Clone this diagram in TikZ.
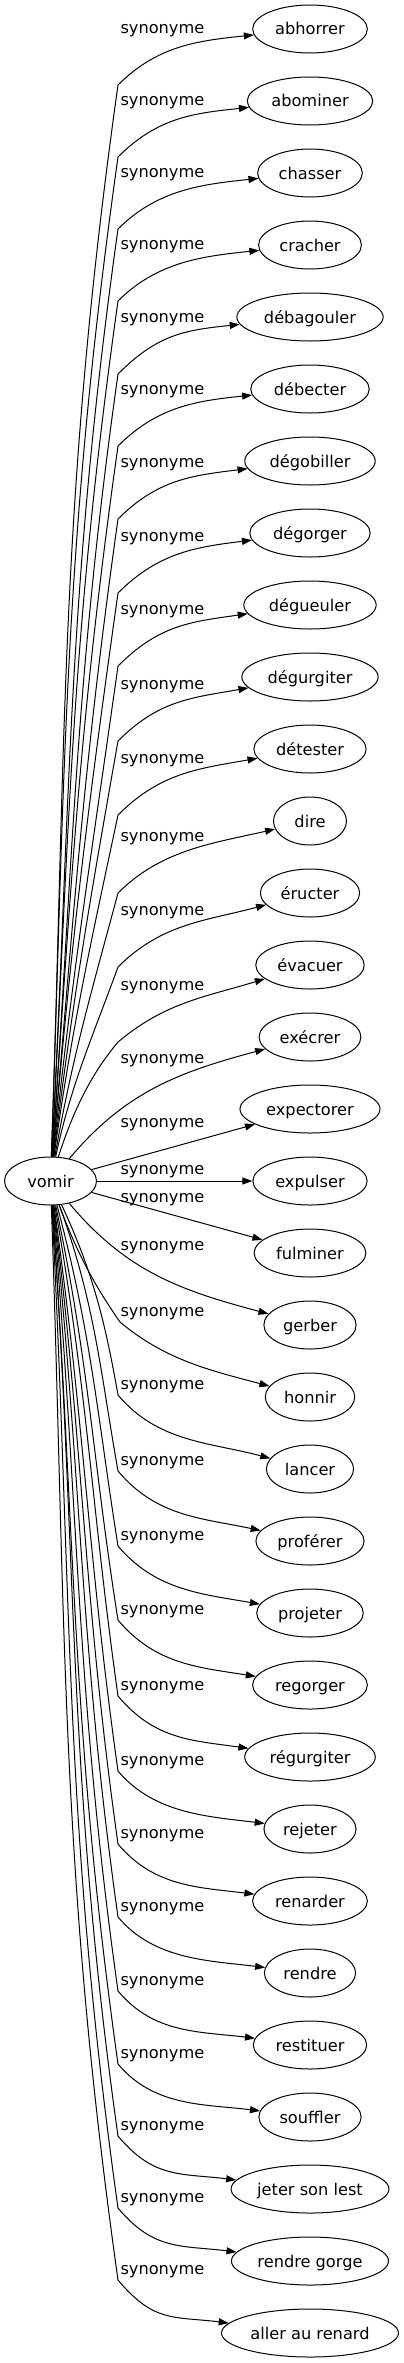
\documentclass[tikz,border=0pt]{standalone}
\usepackage{fontspec}
\setmainfont{DejaVu Sans}
\usepackage{tikz}
\usetikzlibrary{shapes.geometric}
\usetikzlibrary{arrows.meta}

\begin{document}
\begin{tikzpicture}
    [x=1pt, y=1pt, line width=1pt, font=\fontsize{16.2}{19}\selectfont,
     word/.style = {draw, ellipse, minimum width=73pt, minimum height=48pt, inner xsep=5.7pt, inner ysep=0pt, text height=12pt, text depth=0pt},
     lbl/.style = {anchor=base west, inner sep=0pt},
     syn/.style = {-{Triangle[length=10pt, width=7pt]}}]

    \useasboundingbox (0,0) rectangle (404,-2363);

    \node[word, minimum width=92pt] (vomir) at (50.5,-1181) {vomir};

    \node[word] (abhorrer) at (310,-29) {abhorrer};
    \node[word] (abominer) at (310,-101) {abominer};
    \node[word] (chasser) at (310,-173) {chasser};
    \node[word] (cracher) at (310,-245) {cracher};
    \node[word] (debagouler) at (310,-317) {débagouler};
    \node[word] (debecter) at (310,-389) {débecter};
    \node[word] (degobiller) at (310,-461) {dégobiller};
    \node[word] (degorger) at (310,-533) {dégorger};
    \node[word] (degueuler) at (310,-605) {dégueuler};
    \node[word] (degurgiter) at (310,-677) {dégurgiter};
    \node[word] (detester) at (310,-749) {détester};
    \node[word] (dire) at (310,-821) {dire};
    \node[word] (eructer) at (310,-893) {éructer};
    \node[word] (evacuer) at (310,-965) {évacuer};
    \node[word] (execrer) at (310,-1037) {exécrer};
    \node[word] (expectorer) at (310,-1109) {expectorer};
    \node[word] (expulser) at (310,-1181) {expulser};
    \node[word] (fulminer) at (310,-1253) {fulminer};
    \node[word] (gerber) at (310,-1325) {gerber};
    \node[word] (honnir) at (310,-1397) {honnir};
    \node[word] (lancer) at (310,-1469) {lancer};
    \node[word] (proferer) at (310,-1541) {proférer};
    \node[word] (projeter) at (310,-1613) {projeter};
    \node[word] (regorger) at (310,-1685) {regorger};
    \node[word] (regurgiter) at (310,-1757) {régurgiter};
    \node[word] (rejeter) at (310,-1829) {rejeter};
    \node[word] (renarder) at (310,-1901) {renarder};
    \node[word] (rendre) at (310,-1973) {rendre};
    \node[word] (restituer) at (310,-2045) {restituer};
    \node[word] (souffler) at (310,-2117) {souffler};
    \node[word, inner xsep=3pt] (jeter) at (310,-2189) {jeter son lest};
    \node[word, inner xsep=3pt] (gorge) at (310,-2261) {rendre gorge};
    \node[word, inner xsep=3pt] (renard) at (310,-2333) {aller au renard};

    \node[lbl] (l1) at (120,-33.5) {synonyme};
    \node[lbl] (l2) at (120,-105.5) {synonyme};
    \node[lbl] (l3) at (120,-177.5) {synonyme};
    \node[lbl] (l4) at (120,-249.5) {synonyme};
    \node[lbl] (l5) at (120,-322.5) {synonyme};
    \node[lbl] (l6) at (120,-394.5) {synonyme};
    \node[lbl] (l7) at (120,-467.5) {synonyme};
    \node[lbl] (l8) at (120,-541.5) {synonyme};
    \node[lbl] (l9) at (120,-614.5) {synonyme};
    \node[lbl] (l10) at (120,-689.5) {synonyme};
    \node[lbl] (l11) at (120,-763.5) {synonyme};
    \node[lbl] (l12) at (120,-841.5) {synonyme};
    \node[lbl] (l13) at (120,-915.5) {synonyme};
    \node[lbl] (l14) at (120,-990.5) {synonyme};
    \node[lbl] (l15) at (120,-1063.5) {synonyme};
    \node[lbl] (l16) at (120,-1127.5) {synonyme};
    \node[lbl] (l17) at (120,-1174.5) {synonyme};
    \node[lbl] (l18) at (120,-1202.5) {synonyme};
    \node[lbl] (l19) at (120,-1250.5) {synonyme};
    \node[lbl] (l20) at (120,-1316.5) {synonyme};
    \node[lbl] (l21) at (120,-1389.5) {synonyme};
    \node[lbl] (l22) at (120,-1465.5) {synonyme};
    \node[lbl] (l23) at (120,-1540.5) {synonyme};
    \node[lbl] (l24) at (120,-1614.5) {synonyme};
    \node[lbl] (l25) at (120,-1690.5) {synonyme};
    \node[lbl] (l26) at (120,-1765.5) {synonyme};
    \node[lbl] (l27) at (120,-1838.5) {synonyme};
    \node[lbl] (l28) at (120,-1911.5) {synonyme};
    \node[lbl] (l29) at (120,-1985.5) {synonyme};
    \node[lbl] (l30) at (120,-2058.5) {synonyme};
    \node[lbl] (l31) at (120,-2130.5) {synonyme};
    \node[lbl] (l32) at (120,-2202.5) {synonyme};
    \node[lbl] (l33) at (120,-2274.5) {synonyme};

    % upper fan
    \draw[syn] (vomir.88) .. controls +(88:418) and +(262:418) .. (118,-85) .. controls +(45:56) and +(186:56) .. (abhorrer.186);
    \draw[syn] (vomir.88) .. controls +(88:390) and +(262:390) .. (118,-157) .. controls +(45:56) and +(186:56) .. (abominer.186);
    \draw[syn] (vomir.87) .. controls +(87:362) and +(262:362) .. (118,-229) .. controls +(45:56) and +(186:56) .. (chasser.186);
    \draw[syn] (vomir.87) .. controls +(87:334) and +(262:334) .. (118,-301) .. controls +(45:56) and +(186:56) .. (cracher.186);
    \draw[syn] (vomir.86) .. controls +(86:305) and +(262:305) .. (118,-374) .. controls +(45:56) and +(186:56) .. (debagouler.186);
    \draw[syn] (vomir.86) .. controls +(86:277) and +(262:277) .. (118,-446) .. controls +(45:56) and +(186:56) .. (debecter.186);
    \draw[syn] (vomir.85) .. controls +(85:249) and +(262:249) .. (118,-519) .. controls +(45:56) and +(187:56) .. (degobiller.187);
    \draw[syn] (vomir.85) .. controls +(85:220) and +(262:220) .. (118,-593) .. controls +(45:57) and +(187:57) .. (degorger.187);
    \draw[syn] (vomir.84) .. controls +(84:191) and +(262:191) .. (118,-666) .. controls +(45:58) and +(188:58) .. (degueuler.188);
    \draw[syn] (vomir.83) .. controls +(83:162) and +(260:162) .. (118,-741) .. controls +(45:58) and +(190:58) .. (degurgiter.190);
    \draw[syn] (vomir.82) .. controls +(82:133) and +(258:133) .. (118,-815) .. controls +(45:60) and +(190:60) .. (detester.190);
    \draw[syn] (vomir.80) .. controls +(80:103) and +(255:103) .. (118,-893) .. controls +(45:62) and +(193:62) .. (dire.193);
    \draw[syn] (vomir.78) .. controls +(78:74) and +(250:74) .. (118,-967) .. controls +(45:62) and +(195:62) .. (eructer.195);
    \draw[syn] (vomir.72) .. controls +(72:45) and +(230:45) .. (118,-1042) .. controls +(40:62) and +(197:62) .. (evacuer.197);
    \draw[syn] (vomir.50) .. controls +(50:88) and +(195:88) .. (execrer.195);
    % middle
    \draw[syn] (vomir) -- (expectorer);
    \draw[syn] (vomir) -- (expulser);
    \draw[syn] (vomir) -- (fulminer);
    \draw[syn] (vomir.-50) .. controls +(-50:90) and +(165:90) .. (gerber.165);
    % lower fan
    \draw[syn] (vomir.-70) .. controls +(-70:46) and +(125:46) .. (120,-1322) .. controls +(-40:60) and +(165:60) .. (honnir.165);
    \draw[syn] (vomir.-65) .. controls +(-65:74) and +(100:74) .. (118,-1395) .. controls +(-50:62) and +(165:62) .. (lancer.165);
    \draw[syn] (vomir.-70) .. controls +(-70:104) and +(100:104) .. (118,-1471) .. controls +(-50:60) and +(168:60) .. (proferer.168);
    \draw[syn] (vomir.-75) .. controls +(-75:133) and +(99:133) .. (118,-1546) .. controls +(-50:58) and +(170:58) .. (projeter.170);
    \draw[syn] (vomir.-78) .. controls +(-78:162) and +(99:162) .. (118,-1620) .. controls +(-50:58) and +(171:58) .. (regorger.171);
    \draw[syn] (vomir.-80) .. controls +(-80:191) and +(98:191) .. (118,-1696) .. controls +(-50:57) and +(172:57) .. (regurgiter.172);
    \draw[syn] (vomir.-82) .. controls +(-82:221) and +(98:221) .. (118,-1771) .. controls +(-50:56) and +(173:56) .. (rejeter.173);
    \draw[syn] (vomir.-83) .. controls +(-83:249) and +(98:249) .. (118,-1844) .. controls +(-50:56) and +(173:56) .. (renarder.173);
    \draw[syn] (vomir.-84) .. controls +(-84:278) and +(98:278) .. (118,-1917) .. controls +(-50:56) and +(173:56) .. (rendre.173);
    \draw[syn] (vomir.-85) .. controls +(-85:307) and +(98:307) .. (118,-1991) .. controls +(-50:56) and +(173:56) .. (restituer.173);
    \draw[syn] (vomir.-86) .. controls +(-86:335) and +(98:335) .. (118,-2064) .. controls +(-50:56) and +(173:56) .. (souffler.173);
    \draw[syn] (vomir.-86) .. controls +(-86:363) and +(98:363) .. (118,-2136) .. controls +(-50:56) and +(173:56) .. (jeter.173);
    \draw[syn] (vomir.-87) .. controls +(-87:391) and +(98:391) .. (118,-2208) .. controls +(-50:56) and +(173:56) .. (gorge.173);
    \draw[syn] (vomir.-88) .. controls +(-88:419) and +(98:419) .. (118,-2280) .. controls +(-50:56) and +(173:56) .. (renard.173);
\end{tikzpicture}
\end{document}
